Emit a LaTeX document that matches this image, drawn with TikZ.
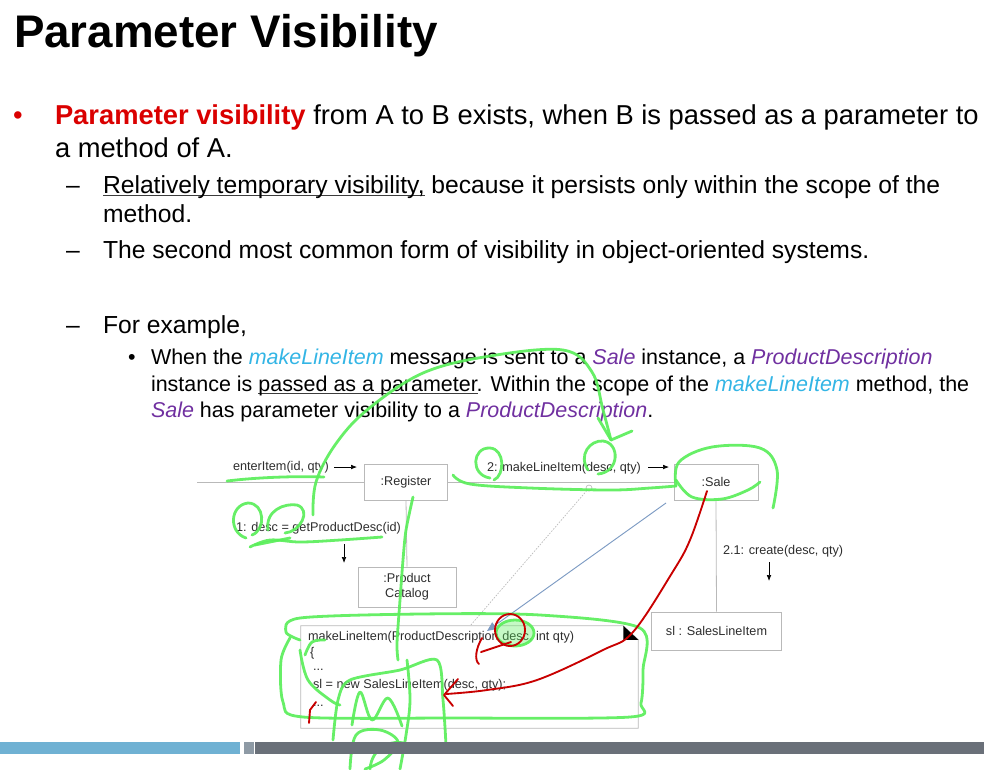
\documentclass[tikz,border=0pt]{standalone}
\usepackage{fontspec}
\setmainfont{Liberation Sans}
\usetikzlibrary{arrows.meta}
\definecolor{pred}{RGB}{218,0,0}
\definecolor{pblue}{RGB}{51,181,229}
\definecolor{ppurple}{RGB}{112,48,160}
\definecolor{pen}{RGB}{90,238,90}
\definecolor{redpen}{RGB}{200,0,0}
\definecolor{barblue}{RGB}{111,177,211}
\definecolor{bargray}{RGB}{106,112,121}
\definecolor{barlight}{RGB}{142,154,165}
\definecolor{umlline}{RGB}{185,185,185}
\definecolor{umltext}{RGB}{45,45,45}
\definecolor{visline}{RGB}{125,155,195}
\newcommand\myul[1]{\setbox0\hbox{#1}\rlap{\textcolor[RGB]{60,60,60}{\rule[-2.4pt]{\wd0}{0.6pt}}}#1}
\begin{document}
\begin{tikzpicture}[x=0.75pt,y=-0.75pt,
  txt/.style={anchor=base west, inner sep=0pt, outer sep=0pt},
  ttl/.style={txt, font=\fontsize{34.3}{40}\selectfont\bfseries},
  lvone/.style={txt, font=\fontsize{20.5}{24}\selectfont},
  lvtwo/.style={txt, font=\fontsize{18.5}{22}\selectfont},
  lvthree/.style={txt, font=\fontsize{16.1}{19}\selectfont},
  dg/.style={txt, font=\fontsize{9.5}{11}\selectfont, text=umltext},
  obj/.style={draw=umlline, line width=0.6pt, inner sep=0pt, align=center,
     font=\fontsize{9.5}{11.5}\selectfont, text=umltext},
  link/.style={draw=umlline, line width=0.6pt},
  msg/.style={-{Latex[length=4.5pt,width=3.5pt]}, line width=0.5pt, draw=black},
  green pen/.style={draw=pen, line width=2.1pt, line cap=round, line join=round, opacity=0.92},
  red pen/.style={draw=redpen, line width=1.4pt, line cap=round, line join=round}
]
\useasboundingbox (0,0) rectangle (984,769);
\clip (0,0) rectangle (984,769);

% ---------- title and text ----------
\node[ttl] (title) at (14,47) {Parameter Visibility};

\node[lvone, text=pred] (bul1) at (13,124) {•};
\node[lvone] (l1a) at (55,124) {\textcolor{pred}{\textbf{Parameter visibility}} from A to B exists, when B is passed as a parameter to};
\node[lvone] (l1b) at (55,157) {a method of A.};

\node[lvtwo] (d1) at (66,193) {–};
\node[lvtwo] (l2a) at (103,193) {\myul{Relatively temporary visibility,} because it persists only within the scope of the};
\node[lvtwo] (l2b) at (103,222) {method.};
\node[lvtwo] (d2) at (66,258) {–};
\node[lvtwo] (l2c) at (103,258) {The second most common form of visibility in object-oriented systems.};
\node[lvtwo] (d3) at (66,333) {–};
\node[lvtwo] (l2d) at (103,333) {For example,};

\node[lvthree] (bul2) at (128,364) {•};
\node[lvthree] (l3a) at (151,364) {When the \textcolor{pblue}{\textit{makeLineItem}} message is sent to a \textcolor{ppurple}{\textit{Sale}} instance, a \textcolor{ppurple}{\textit{ProductDescription}}};
\node[lvthree] (l3b) at (151,391) {instance is \myul{passed as a parameter}. Within the scope of the \textcolor{pblue}{\textit{makeLineItem}} method, the};
\node[lvthree] (l3c) at (151,417) {\textcolor{ppurple}{\textit{Sale}} has parameter visibility to a \textcolor{ppurple}{\textit{ProductDescription}}.};

% ---------- UML diagram ----------
\node[obj, minimum width=62pt, minimum height=27pt] (reg) at (406,482) {:Register};
\node[obj, minimum width=63pt, minimum height=27pt] (sale) at (716,482) {:Sale};
\node[obj, minimum width=73.5pt, minimum height=30pt] (cat) at (407,587) {:Product\\Catalog};
\node[obj, minimum width=97pt, minimum height=28.5pt] (sli) at (716.5,631) {sl : SalesLineItem};
\node[inner sep=0pt, minimum width=252.75pt, minimum height=76.5pt] (note) at (469.5,677) {};

\coordinate (start) at (197,482);
\draw[link] (start) -- (reg.west);
\draw[link] (reg.east) -- (sale.west);
\draw[link] (reg.south) -- (cat.north);
\draw[link] (sale.south) -- (sli.north);

% note with folded corner
\draw[umlline, line width=0.6pt] (note.north west) -- ([xshift=-11.25pt]note.north east)
   -- ([yshift=-10.5pt]note.north east) -- (note.south east) -- (note.south west) -- cycle;
\fill[black] ([xshift=-11.25pt]note.north east) -- ([xshift=-11.25pt,yshift=-10.5pt]note.north east)
   -- ([yshift=-10.5pt]note.north east) -- cycle;

\node[dg] (n1) at (308,640) {makeLineItem(ProductDescription desc, int qty)};
\node[dg] (n2) at (310,656) {\{};
\node[dg] (n3) at (313,670) {...};
\node[dg] (n4) at (313,688) {sl = new SalesLineItem(desc, qty);};
\node[dg] (n5) at (313,706) {...};

% messages
\node[dg] (m0) at (233,470) {enterItem(id, qty)};
\coordinate (m0a) at (334,467); \coordinate (m0b) at (357,467);
\draw[msg] (m0a) -- (m0b);
\node[dg] (m2) at (487,471) {2: makeLineItem(desc, qty)};
\coordinate (m2a) at (648,467); \coordinate (m2b) at (669,467);
\draw[msg] (m2a) -- (m2b);
\node[dg] (m1) at (236,531) {1: desc = getProductDesc(id)};
\coordinate (m1a) at (344,544); \coordinate (m1b) at (344,563);
\draw[msg] (m1a) -- (m1b);
\node[dg] (m21) at (723,554) {2.1: create(desc, qty)};
\coordinate (m21a) at (769,562); \coordinate (m21b) at (769,581);
\draw[msg] (m21a) -- (m21b);

% visibility links
\node[circle, draw=umlline, line width=0.5pt, inner sep=0pt, minimum size=4.5pt] (dotc) at (589,488) {};
\coordinate (dotend) at (470,626);
\draw[umlline, line width=0.5pt, dash pattern=on 1.2pt off 1pt] (dotc) -- (dotend);
\coordinate (visA) at (666,503); \coordinate (visB) at (487,631);
\draw[visline, line width=0.7pt, -{Triangle[length=7pt,width=6pt]}] (visA) -- (visB);

% ---------- hand annotations (green) ----------
\draw[green pen] plot[smooth, tension=0.6] coordinates {(313,515) (316,482) (335,445) (367,410) (423,373) (490,356) (563,350) (592,372) (603,410) (611,440)};
\draw[green pen] (598,418) -- (611,440) -- (632,431);
\draw[green pen] (490,478) .. controls (470,475) and (472,447) .. (490,448) .. controls (505,449) and (505,475) .. (494,480);
\draw[green pen] (588,470) .. controls (578,455) and (590,440) .. (603,441) .. controls (620,443) and (620,472) .. (598,474);
\draw[green pen] plot[smooth, tension=0.6] coordinates {(453,475) (470,484) (530,488) (610,490) (650,488) (676,486)};
\draw[green pen] plot[smooth, tension=0.6] coordinates {(676,486) (679,462) (712,447) (760,448) (777,470) (773,508)};
\draw[green pen] plot[smooth, tension=0.6] coordinates {(676,480) (692,497) (722,499) (748,490) (760,482)};
\draw[green pen] (227,481) .. controls (260,477) and (300,476) .. (324,477);
\draw[green pen] (246,538) .. controls (228,532) and (230,505) .. (248,503) .. controls (265,503) and (266,530) .. (252,535);
\draw[green pen] (268,530) .. controls (265,510) and (285,503) .. (297,505) .. controls (312,510) and (300,532) .. (285,533);
\draw[green pen] plot[smooth, tension=0.6] coordinates {(250,547) (270,540) (300,542) (340,540) (382,537)};
\draw[green pen] (255,545) -- (290,538);
\draw[green pen] plot[smooth, tension=0.5] coordinates {(413,497) (406,530) (403,560) (400,600) (397,643) (398,660)};
\draw[green pen] plot[smooth, tension=0.5] coordinates {(300,640) (286,632) (300,618) (420,614) (540,615) (640,628) (643,670) (641,703) (630,717) (450,718) (303,717) (283,702) (281,660) (290,638)};
\draw[green pen] plot[smooth, tension=0.6] coordinates {(305,655) (312,642) (325,640)};
\draw[green pen] plot[smooth, tension=0.6] coordinates {(300,650) (308,680) (330,700) (340,705)};
\draw[green pen] plot[smooth, tension=0.5] coordinates {(333,740) (338,700) (350,680) (400,670) (437,660) (443,700) (446,745)};
\draw[green pen] plot[smooth, tension=0.6] coordinates {(352,725) (360,692) (372,720) (388,698) (402,726)};
\draw[green pen] plot[smooth, tension=0.6] coordinates {(407,660) (410,700) (406,735) (400,769)};
\draw[green pen] plot[smooth, tension=0.6] coordinates {(350,769) (356,735) (380,730) (398,742) (384,760) (365,769)};
\draw[green pen] (370,769) .. controls (372,745) and (395,738) .. (410,745);
\draw[green pen, fill=pen, fill opacity=0.35] (515,633) ellipse [x radius=19, y radius=13];

% ---------- hand annotations (red) ----------
\draw[red pen] (510,630) ellipse [x radius=15, y radius=16];
\draw[red pen] (482,638) .. controls (476,648) and (474,660) .. (479,664);
\draw[red pen] (481,652) -- (511,642);
\draw[red pen] plot[smooth, tension=0.6] coordinates {(707,491) (690,540) (672,573) (633,632) (603,650) (537,680) (487,690) (446,694)};
\draw[red pen] (458,679) -- (444,695) -- (453,706);
\draw[red pen] (309,723) -- (310,710) -- (316,702);

% ---------- footer bars ----------
\fill[barblue] (0,742) rectangle (240,754);
\fill[barlight] (244,742) rectangle (254,754);
\fill[bargray] (255,742) rectangle (984,754);
\end{tikzpicture}
\end{document}
